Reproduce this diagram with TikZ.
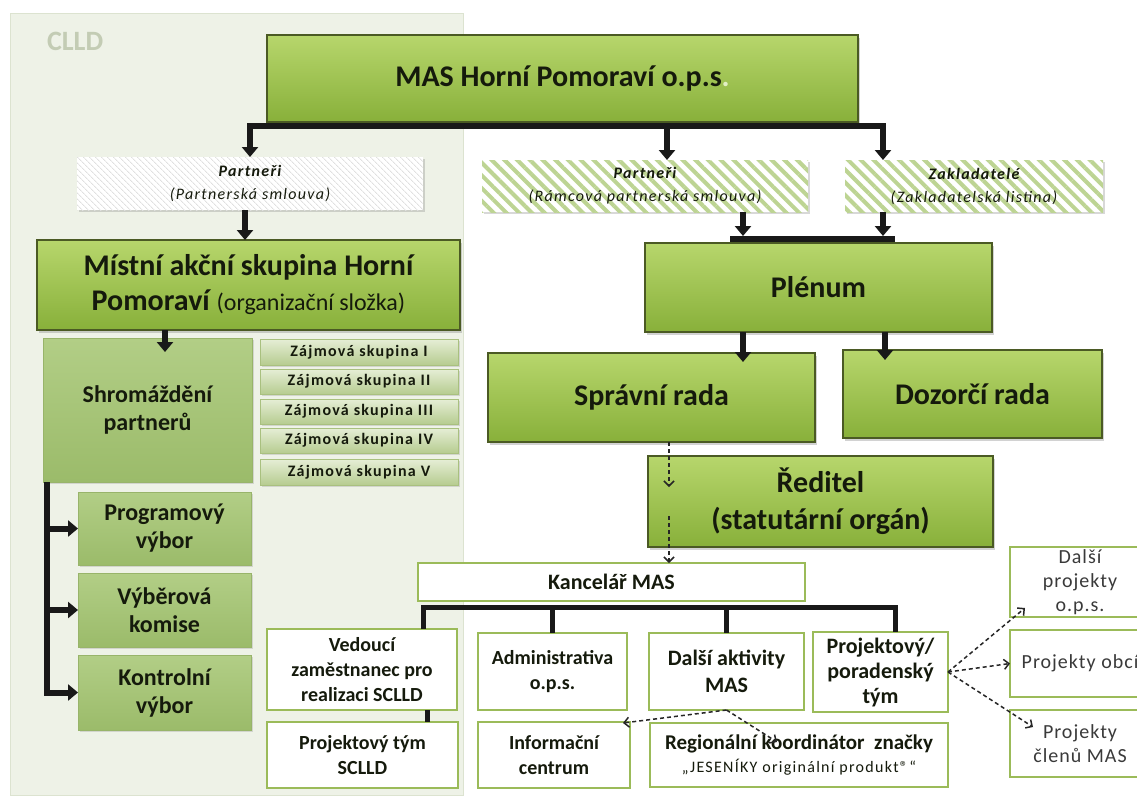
\documentclass[tikz,border=0pt]{standalone}
\usepackage{fontspec}
\setmainfont{Carlito}
\usetikzlibrary{arrows.meta,shadows,patterns.meta,calc}
\definecolor{gtop}{HTML}{B7D66C}
\definecolor{gbot}{HTML}{88B03A}
\definecolor{gborder}{HTML}{4B5A24}
\definecolor{mtop}{HTML}{B2CE86}
\definecolor{mbot}{HTML}{9BBB6A}
\definecolor{mborder}{HTML}{98B46A}
\definecolor{ztop}{HTML}{E6EED6}
\definecolor{zbot}{HTML}{B6CC90}
\definecolor{zborder}{HTML}{A9C07F}
\definecolor{wborder}{HTML}{9BBB59}
\definecolor{panel}{HTML}{EEF2E7}
\definecolor{panelb}{HTML}{DCE3D0}
\definecolor{clldtxt}{HTML}{C3CCB4}
\definecolor{txt}{HTML}{151A0C}
\definecolor{rtxt}{HTML}{3A3A3A}
\definecolor{hatchg}{HTML}{BDD493}
\definecolor{hatchgray}{HTML}{E0E0E0}
\newcommand\fsz[2]{\fontsize{#1}{#2}\selectfont}
\begin{document}
\begin{tikzpicture}[x=1pt,y=-1pt,
  base/.style={anchor=north west, inner sep=0pt, outer sep=0pt, align=center, text=txt},
  gbox/.style={base, draw=gborder, line width=1.2pt, top color=gtop, bottom color=gbot,
    drop shadow={opacity=0.35, shadow xshift=2pt, shadow yshift=-2.5pt}, font=\bfseries\fsz{30}{36}},
  mbox/.style={base, draw=mborder, line width=0.8pt, top color=mtop, bottom color=mbot,
    drop shadow={opacity=0.25, shadow xshift=1.5pt, shadow yshift=-2pt}, font=\bfseries\fsz{24}{28}},
  zbox/.style={base, draw=zborder, line width=0.8pt, top color=ztop, bottom color=zbot,
    minimum width=198pt, drop shadow={opacity=0.25, shadow xshift=1.5pt, shadow yshift=-1.5pt},
    font={\bfseries\fsz{16}{18}\addfontfeature{LetterSpace=8}}},
  wbox/.style={base, draw=wborder, line width=2.2pt, fill=white, font=\bfseries\fsz{20}{25}},
  rbox/.style={wbox, minimum width=140pt, text=rtxt, font={\fsz{20}{24}\addfontfeature{LetterSpace=5}}},
  hbox/.style={base, drop shadow={opacity=0.3, shadow xshift=1.5pt, shadow yshift=-2pt},
    preaction={fill=white}, pattern={Lines[angle=-45,distance=9pt,line width=4pt]},
    pattern color=hatchg, font={\itshape\fsz{16}{23}\addfontfeature{LetterSpace=8}}},
  conn/.style={draw=black!90, line width=6pt},
  arr/.style={conn, -{Triangle[width=16pt,length=10pt]}},
  dasharr/.style={draw=black!85, line width=1.5pt, dash pattern={on 4pt off 3pt},
    -{Straight Barb[length=5pt,width=10pt]}}
]
\fill[white] (0,0) rectangle (1137,801);
\useasboundingbox (0,0) rectangle (1137,801);
% CLLD panel
\filldraw[fill=panel, draw=panelb, line width=1pt] (10,13) rectangle (463,795);
\node[base, anchor=west, text=clldtxt, font=\bfseries\fsz{28}{30}] (clld) at (47,41) {CLLD};

% top level
\node[gbox, minimum width=591pt, minimum height=87pt] (mas) at (267,35)
  {MAS Horní Pomoraví o.p.s{\color{gtop!40!white}.}};
\node[hbox, pattern={Lines[angle=-45,distance=4pt,line width=0.9pt]}, pattern color=hatchgray,
  minimum width=346pt, minimum height=53pt] (p1) at (77,157)
  {\textbf{Partneři}\\(Partnerská smlouva)};
\node[hbox, minimum width=326pt, minimum height=52pt] (p2) at (482,160)
  {\textbf{Partneři}\\(Rámcová partnerská smlouva)};
\node[hbox, minimum width=258pt, minimum height=52pt] (zak) at (845,160)
  {\textbf{Zakladatelé}\\(Zakladatelská listina)};

% left column
\node[gbox, minimum width=423pt, minimum height=90pt, font=\bfseries\fsz{30}{35}] (mistni) at (37,240)
  {Místní akční skupina Horní\\Pomoraví {\mdseries\fsz{24}{35}(organizační složka)}};
\node[mbox, minimum width=209pt, minimum height=144pt] (shrom) at (43,338) {Shromáždění\\partnerů};
\node[zbox, minimum height=26pt] (zaj1) at (260,339) {Zájmová skupina I};
\node[zbox, minimum height=25pt] (zaj2) at (260,369) {Zájmová skupina II};
\node[zbox, minimum height=25pt] (zaj3) at (260,399) {Zájmová skupina III};
\node[zbox, minimum height=25pt] (zaj4) at (260,428) {Zájmová skupina IV};
\node[zbox, minimum height=26pt] (zaj5) at (260,459) {Zájmová skupina V};
\node[mbox, minimum width=173pt, minimum height=73pt] (progr) at (78,492) {Programový\\výbor};
\node[mbox, minimum width=173pt, minimum height=74pt] (vyber) at (78,573) {Výběrová\\komise};
\node[mbox, minimum width=173pt, minimum height=75pt] (kontr) at (78,655) {Kontrolní\\výbor};

% right column
\node[gbox, minimum width=347pt, minimum height=89pt] (plenum) at (645,243) {Plénum};
\node[gbox, minimum width=327pt, minimum height=89pt] (spravni) at (488,353) {Správní rada};
\node[gbox, minimum width=259pt, minimum height=88pt] (dozorci) at (843,350) {Dozorčí rada};
\node[gbox, minimum width=345pt, minimum height=91pt, font=\bfseries\fsz{30}{37}] (reditel) at (648,456)
  {Ředitel\\(statutární orgán)};

% office
\node[wbox, minimum width=387pt, minimum height=38pt, font=\bfseries\fsz{22}{25}] (kancelar) at (418,563) {Kancelář MAS};
\node[wbox, minimum width=190pt, minimum height=81pt] (vedouci) at (267,629) {Vedoucí\\zaměstnanec pro\\realizaci SCLLD};
\node[wbox, minimum width=149pt, minimum height=77pt] (admin) at (478,633) {Administrativa\\o.p.s.};
\node[wbox, minimum width=155pt, minimum height=77pt, font=\bfseries\fsz{22}{27}] (dalsi) at (649,633) {Další aktivity\\MAS};
\node[wbox, minimum width=135pt, minimum height=80pt, font=\bfseries\fsz{22}{25}] (projporad) at (813,632) {Projektový/\\poradenský\\tým};
\node[wbox, minimum width=191pt, minimum height=66pt] (projtym) at (267,722) {Projektový tým\\SCLLD};
\node[wbox, minimum width=152pt, minimum height=66pt] (info) at (478,722) {Informační\\centrum};
\node[wbox, minimum width=298pt, minimum height=64pt, font=\bfseries\fsz{21}{23}] (region) at (650,723)
  {Regionální koordinátor\ \ značky\\{\mdseries\fsz{16}{22}\addfontfeature{LetterSpace=8}„JESENÍKY originální produkt®“}};
\node[rbox, minimum height=70pt] (dpops) at (1010,547) {Další\\projekty\\o.p.s.};
\node[rbox, minimum height=67pt] (pobci) at (1010,630) {Projekty obcí};
\node[rbox, minimum height=67pt] (pclenu) at (1010,710) {Projekty\\členů MAS};

% connectors: top bar
\coordinate (masbar) at (0,126);
\draw[conn] ($(p1.north |- masbar)+(-3,0)$) -- ($(zak.north |- masbar)+(-88,0)$);
\draw[arr] (p1.north |- masbar) -- (p1.north);
\draw[arr] ($(p2.north |- masbar)+(22,0)$) -- ($(p2.north)+(22,0)$);
\draw[arr] ($(zak.north |- masbar)+(-91,0)$) -- ($(zak.north)+(-91,0)$);
\draw[arr] ($(p1.south)+(-5,0)$) -- ($(p1.south |- mistni.north)+(-5,0)$);

% to plenum
\coordinate (plbar) at (0,239);
\draw[conn] ($(plenum.north west |- plbar)+(85,0)$) -- ($(plenum.north west |- plbar)+(250,0)$);
\draw[arr, shorten >=3pt] ($(p2.south east)+(-65,0)$) -- ($(p2.south east |- plbar)+(-65,0)$);
\draw[arr, shorten >=3pt] ($(zak.south west)+(38,0)$) -- ($(zak.south west |- plbar)+(38,0)$);
\draw[arr, shorten >=-9pt] ($(plenum.south west)+(98,0)$) -- ($(plenum.south west |- spravni.north)+(98,0)$);
\draw[arr, shorten >=-10pt] ($(plenum.south west)+(240,0)$) -- ($(plenum.south west |- dozorci.north)+(240,0)$);

% dashed down the director
\draw[dasharr] ($(spravni.south west)+(181,0)$) -- ($(spravni.south west)+(181,45)$);
\draw[dasharr] ($(kancelar.north west)+(251,-47)$) -- ($(kancelar.north west)+(251,0)$);

% office bar
\coordinate (kbar) at (0,607);
\coordinate (kv) at ($(vedouci.north east)+(-34,0)$);
\coordinate (kp) at ($(projporad.north east)+(-53,0)$);
\draw[conn, line width=5pt] (kv) |- (kp |- kbar) -- (kp);
\draw[conn, line width=5pt] (admin.north |- kbar) -- (admin.north);
\draw[conn, line width=5pt] (dalsi.north |- kbar) -- (dalsi.north);
\coordinate (vp) at ($(vedouci.south east)+(-30,0)$);
\draw[conn, line width=5pt] (vp) -- (vp |- projtym.north);

% left branch
\draw[arr] ($(mistni.south west)+(128,0)$) -- ($(mistni.south west)+(128,22)$);
\coordinate (sv) at ($(shrom.south west)+(4,0)$);
\draw[arr] (sv) |- (kontr.west);
\draw[arr] (sv |- progr.west) -- (progr.west);
\draw[arr] (sv |- vyber.west) -- (vyber.west);

% dashed arrows
\draw[dasharr] (dalsi.south) -- ($(info.north east)+(-7,1)$);
\draw[dasharr] (dalsi.south) -- ($(region.north west)+(127,19)$);
\draw[dasharr] (projporad.east) -- ($(dpops.south west)+(15,-9)$);
\draw[dasharr] (projporad.east) -- (pobci.west);
\draw[dasharr] (projporad.east) -- ($(pclenu.north west)+(23,17)$);
\end{tikzpicture}
\end{document}
